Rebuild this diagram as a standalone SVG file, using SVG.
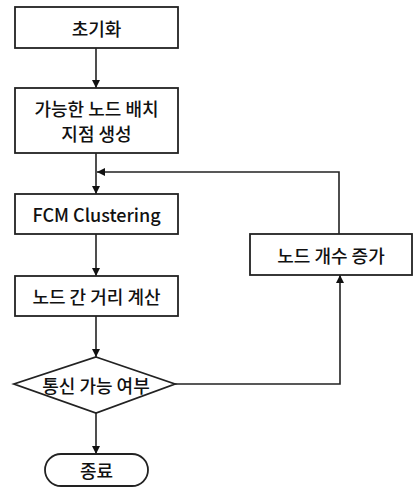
<svg xmlns="http://www.w3.org/2000/svg" width="413" height="489" viewBox="0 0 413 489">
<style>
.n{fill:#fff;stroke:#222;stroke-width:1.8}
.t{font-family:"Noto Sans CJK KR","Noto Sans",sans-serif;font-size:18px;font-weight:500;fill:#111;text-anchor:middle;dominant-baseline:central}
.c{fill:none;stroke:#222;stroke-width:1.6;marker-end:url(#a)}
</style>
<defs>
<marker id="a" viewBox="0 0 10 10" refX="10" refY="5" markerWidth="8" markerHeight="8" markerUnits="userSpaceOnUse" orient="auto">
<path d="M0,0 L10,5 L0,10 Z" fill="#111"/>
</marker>
</defs>
<rect width="413" height="489" fill="#fff"/>
<g id="connectors">
<path class="c" d="M96,48 V88"/>
<path class="c" d="M96,153 V194"/>
<path class="c" d="M96,234 V276"/>
<path class="c" d="M96,316 V357"/>
<path class="c" d="M96,413 V454"/>
<path class="c" d="M175,384 H340 V275"/>
<path class="c" d="M339,234 V172 H97"/>
</g>
<g id="init"><rect class="n" x="15" y="7" width="163" height="41"/><text class="t" x="96.5" y="27.5">초기화</text></g>
<g id="gen"><rect class="n" x="15" y="88" width="163" height="65"/><text class="t" x="96.5" y="108">가능한 노드 배치</text><text class="t" x="96.5" y="133">지점 생성</text></g>
<g id="fcm"><rect class="n" x="15" y="194" width="163" height="40"/><text class="t" x="96.5" y="214">FCM Clustering</text></g>
<g id="dist"><rect class="n" x="15" y="276" width="163" height="40"/><text class="t" x="96.5" y="296">노드 간 거리 계산</text></g>
<g id="decision"><polygon class="n" points="96,357 175,384 96,413 14,384"/><text class="t" x="96" y="385">통신 가능 여부</text></g>
<g id="end"><rect class="n" x="45" y="454" width="103" height="32" rx="16"/><text class="t" x="96.5" y="470">종료</text></g>
<g id="inc"><rect class="n" x="250" y="234" width="162" height="41"/><text class="t" x="331" y="254.5">노드 개수 증가</text></g>
</svg>
